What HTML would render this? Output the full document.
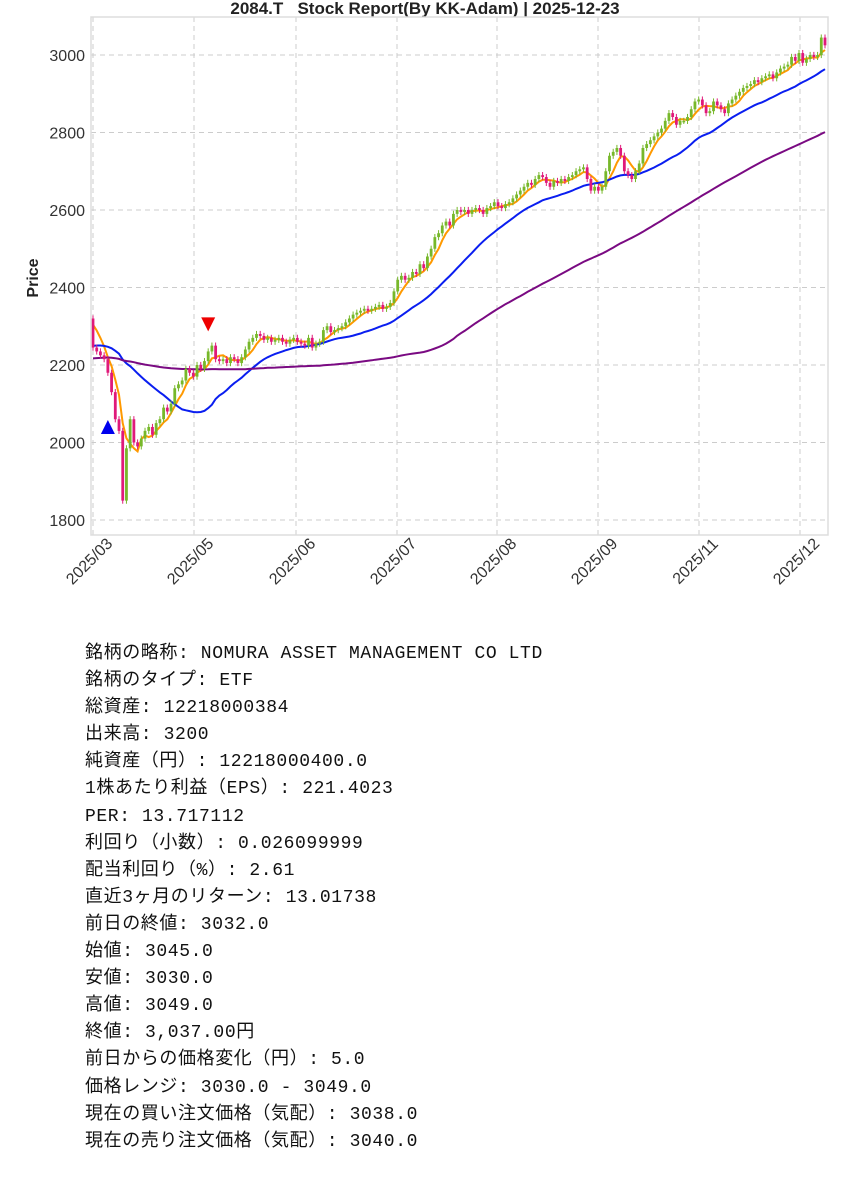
<!DOCTYPE html>
<html><head><meta charset="utf-8">
<style>
body{margin:0;background:#fff;width:849px;height:1200px;overflow:hidden;position:relative;font-family:"Liberation Sans","Noto Sans CJK JP",sans-serif;}
#info{position:absolute;left:85px;top:641px;font-family:"Liberation Mono","Noto Sans CJK JP",monospace;font-size:18px;line-height:27.1px;color:#111;white-space:pre;letter-spacing:0.6px;}
</style></head>
<body>
<svg id="chart" width="849" height="620" style="position:absolute;left:0;top:0" xmlns="http://www.w3.org/2000/svg">
<text x="425" y="14" text-anchor="middle" font-size="17" font-weight="bold" fill="#222" xml:space="preserve">2084.T   Stock Report(By KK-Adam) | 2025-12-23</text>
<text transform="translate(38,278) rotate(-90)" text-anchor="middle" font-size="16" font-weight="bold" fill="#222">Price</text>
<g id="grid"></g><g id="ma"></g><g id="candles"></g><g id="marks"></g><g id="axes"></g>
</svg>
<div id="info"><span>銘柄の略称: NOMURA ASSET MANAGEMENT CO LTD</span>
<span>銘柄のタイプ: ETF</span>
<span>総資産: 12218000384</span>
<span>出来高: 3200</span>
<span>純資産（円）: 12218000400.0</span>
<span>1株あたり利益（EPS）: 221.4023</span>
<span>PER: 13.717112</span>
<span>利回り（小数）: 0.026099999</span>
<span>配当利回り（%）: 2.61</span>
<span>直近3ヶ月のリターン: 13.01738</span>
<span>前日の終値: 3032.0</span>
<span>始値: 3045.0</span>
<span>安値: 3030.0</span>
<span>高値: 3049.0</span>
<span>終値: 3,037.00円</span>
<span>前日からの価格変化（円）: 5.0</span>
<span>価格レンジ: 3030.0 - 3049.0</span>
<span>現在の買い注文価格（気配）: 3038.0</span>
<span>現在の売り注文価格（気配）: 3040.0</span></div>
<script>
const history=[2150,2160,2170,2155,2165,2180,2175,2185,2170,2160,2165,2175,2185,2195,2190,2180,2170,2185,2195,2200,2190,2180,2195,2205,2210,2200,2195,2205,2215,2220,2210,2200,2210,2220,2225,2215,2205,2215,2225,2230,2220,2210,2205,2215,2225,2230,2220,2215,2225,2235,2230,2220,2215,2225,2230,2220,2210,2215,2225,2235,2230,2220,2215,2225,2230,2220,2215,2225,2235,2240,2230,2220,2215,2225,2235,2240,2230,2225,2235,2245,2240,2230,2240,2250,2260,2280,2310,2320,2325,2320];
const closes=[2245,2235,2225,2215,2180,2130,2060,2030,1850,1985,2060,2000,1990,2010,2030,2040,2020,2050,2060,2090,2080,2100,2140,2150,2160,2190,2180,2170,2200,2190,2210,2235,2250,2215,2210,2215,2205,2220,2215,2205,2220,2240,2260,2270,2280,2275,2265,2270,2260,2265,2270,2260,2255,2265,2270,2260,2255,2250,2270,2245,2255,2260,2290,2300,2285,2290,2295,2300,2310,2320,2330,2335,2340,2345,2340,2345,2350,2355,2345,2350,2360,2390,2420,2430,2420,2425,2440,2435,2460,2450,2480,2500,2530,2540,2560,2570,2560,2590,2600,2595,2600,2590,2600,2605,2600,2590,2605,2610,2620,2610,2605,2615,2620,2630,2640,2650,2660,2670,2665,2680,2690,2685,2670,2660,2675,2670,2680,2675,2685,2690,2700,2705,2710,2680,2650,2660,2650,2660,2700,2740,2750,2760,2740,2700,2690,2680,2700,2720,2760,2770,2780,2790,2800,2810,2830,2850,2840,2820,2830,2830,2840,2860,2880,2885,2870,2850,2855,2880,2870,2860,2850,2875,2885,2895,2905,2915,2920,2925,2935,2930,2940,2945,2950,2940,2955,2965,2970,2975,2995,2985,3005,2980,2990,3000,2995,3000,3045,3025];
const yTicks=[1800,2000,2200,2400,2600,2800,3000];
const xTickLabels=["2025/03","2025/05","2025/06","2025/07","2025/08","2025/09","2025/11","2025/12"];
const maWindows=[5,25,90];
const maColors=["#ff9900","#0a1ef0","#7a0a82"];
const buySignalIndex=[4];const buySignalPrice=[2040];
const sellSignalIndex=[31];const sellSignalPrice=[2305];

const NS="http://www.w3.org/2000/svg";
const L=91,R=828,T=17,B=535;
const X0=93,DX=(825-93)/(closes.length-1);
const xs=i=>X0+i*DX;
const ys=v=>55+(3000-v)*(465/1200);
const all=history.concat(closes);const H=history.length;
function mk(tag,attrs,parent){const e=document.createElementNS(NS,tag);for(const k in attrs)e.setAttribute(k,attrs[k]);document.getElementById(parent).appendChild(e);return e;}
yTicks.forEach((v,k)=>{
 const g=mk('line',{x1:L,x2:R,y1:ys(v),y2:ys(v),stroke:'#ccc','stroke-dasharray':'5,4','stroke-width':1},'grid');
 
 
 const t=mk('text',{x:L-6,y:ys(v)+6,'text-anchor':'end','font-size':16,fill:'#333'},'axes');t.textContent=v;
 
 
});
const gxs=[93,194,296,397,497,598,699,800];
xTickLabels.forEach((lab,k)=>{
 const gx=gxs[k];
 const g=mk('line',{x1:gx,x2:gx,y1:T,y2:B,stroke:'#ccc','stroke-dasharray':'5,4','stroke-width':1},'grid');
 
 
 const t=mk('text',{x:0,y:0,'text-anchor':'middle','font-size':16,fill:'#333',transform:`translate(${gx},${565}) rotate(-45)`},'axes');t.textContent=lab;
 
 
});
const fr=mk('rect',{x:L,y:T,width:R-L,height:B-T,fill:'none',stroke:'#ddd','stroke-width':1.5},'axes');


maWindows.forEach((w,k)=>{
 let d='';
 closes.forEach((c,i)=>{const e=H+i;const s=Math.max(0,e-w+1);let sum=0;for(let j=s;j<=e;j++)sum+=all[j];const m=sum/(e-s+1);d+=(i?'L':'M')+xs(i).toFixed(1)+' '+ys(m).toFixed(1);});
 const p=mk('path',{d:d,fill:'none',stroke:maColors[k],'stroke-width':2},'ma');
 
 
});
closes.forEach((c,i)=>{
 const o=all[H+i-1];
 const up=c>=o;const col=up?'#77b82a':'#e0197a';
 const hi=Math.max(o,c)+8,lo=Math.min(o,c)-8;
 const w=mk('line',{x1:xs(i),x2:xs(i),y1:ys(hi),y2:ys(lo),stroke:col,'stroke-width':1},'candles');
 
 
 const top=ys(Math.max(o,c)),h=Math.max(1.5,Math.abs(ys(o)-ys(c)));
 const r=mk('rect',{x:xs(i)-1.4,y:top,width:2.8,height:h,fill:col},'candles');
 
 
});
buySignalIndex.forEach((ix,k)=>{const x=xs(ix),y=ys(buySignalPrice[k]);
 const p=mk('polygon',{points:`${x-7},${y+7} ${x+7},${y+7} ${x},${y-7}`,fill:'#0000ee'},'marks');
 
 });
sellSignalIndex.forEach((ix,k)=>{const x=xs(ix),y=ys(sellSignalPrice[k]);
 const p=mk('polygon',{points:`${x-7},${y-7} ${x+7},${y-7} ${x},${y+7}`,fill:'#ee0000'},'marks');
 
 });
</script>
</body></html>
